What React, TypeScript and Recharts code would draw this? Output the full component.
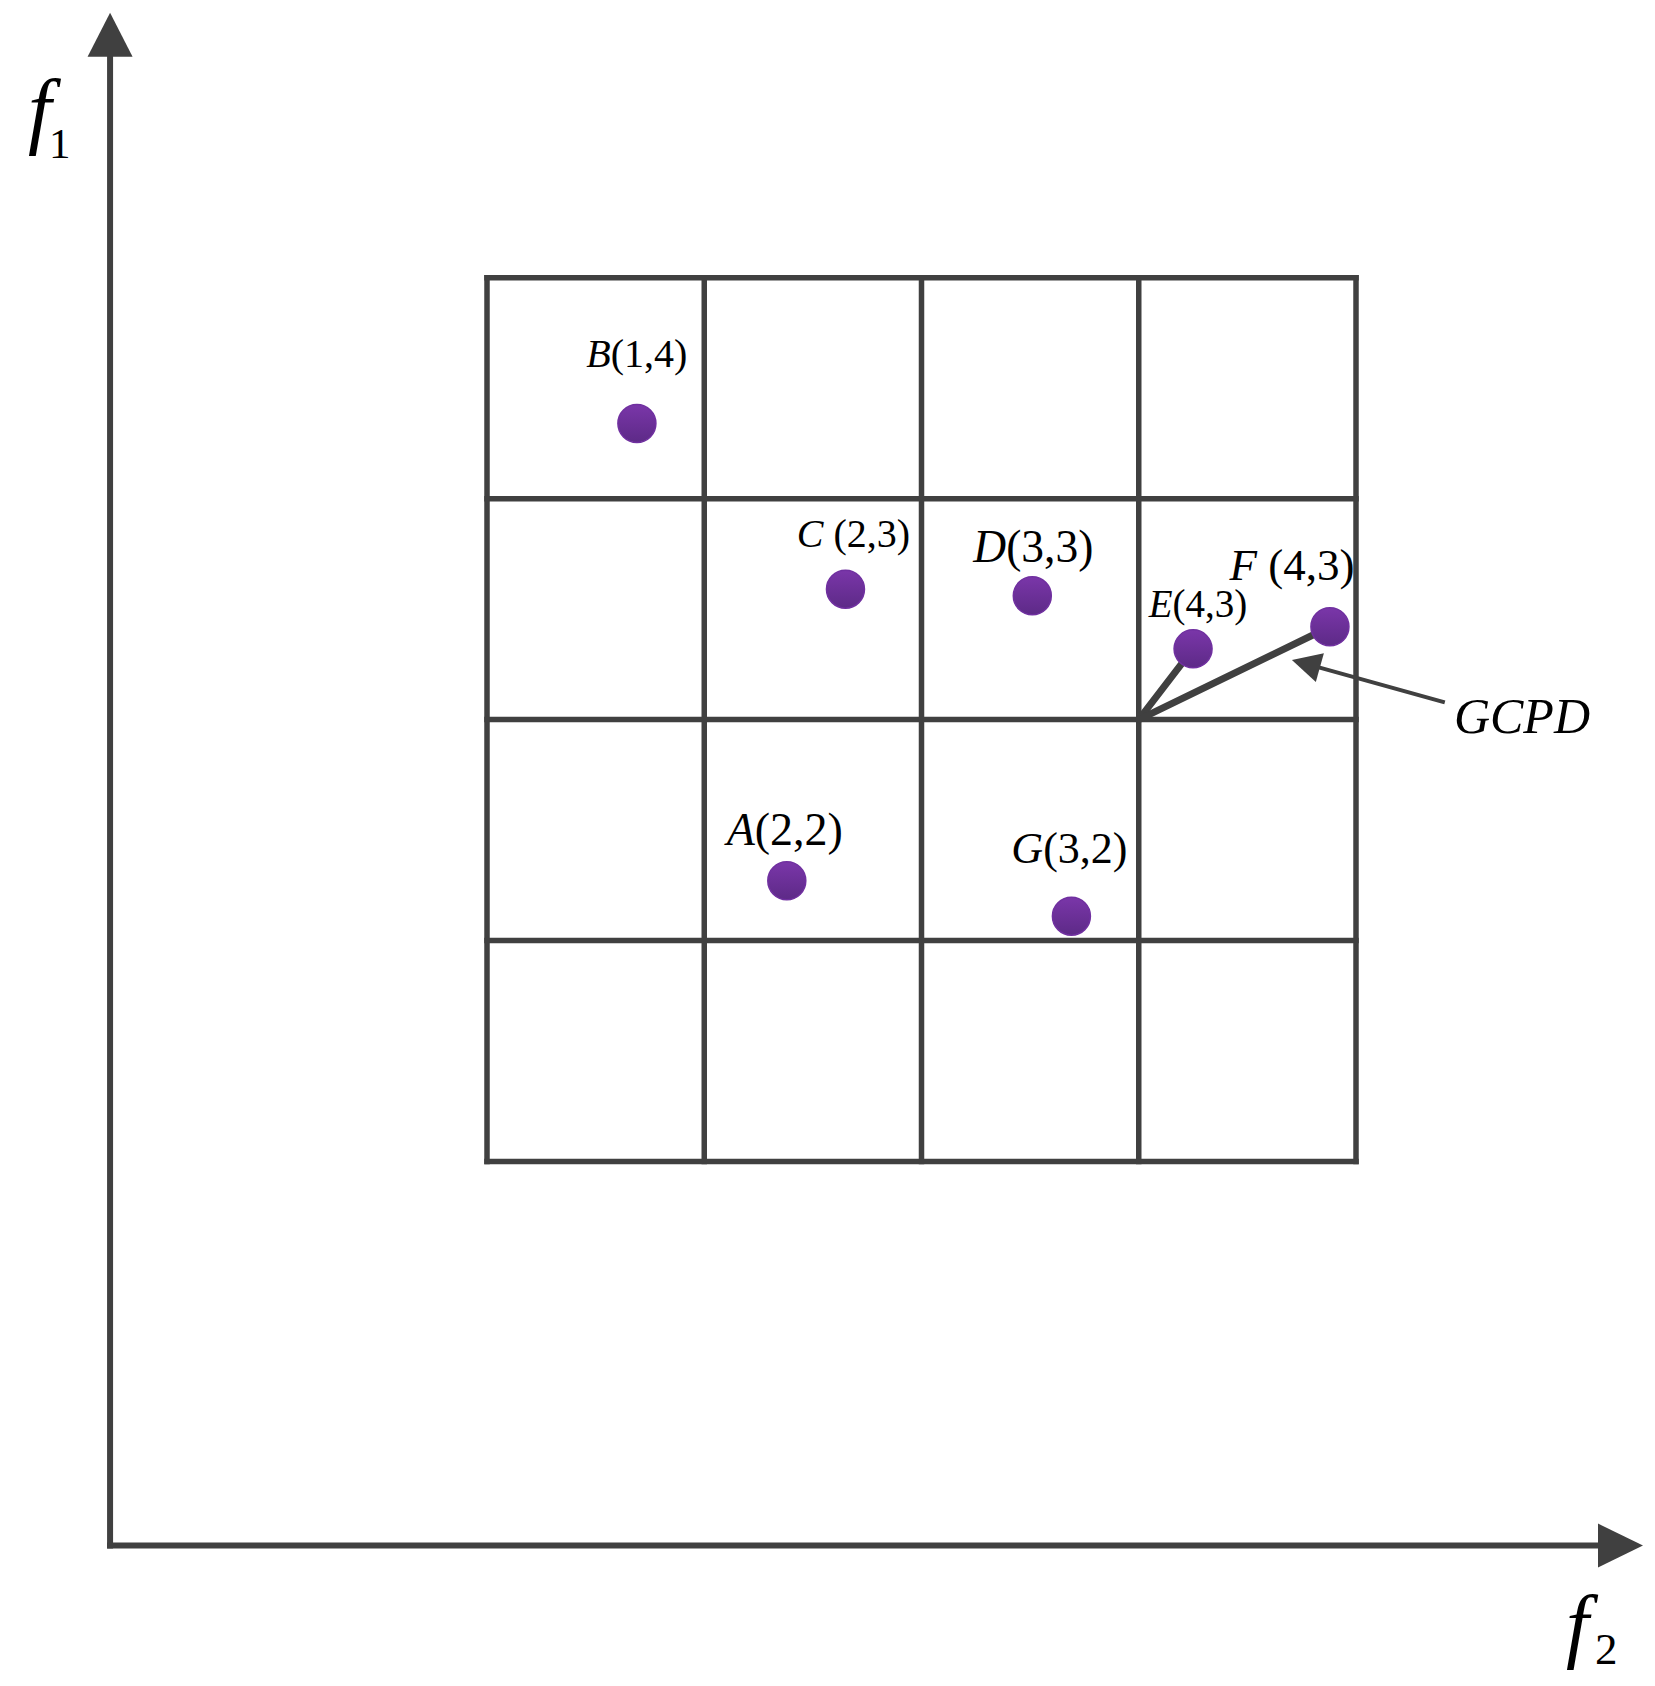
import { ScatterChart, Scatter, XAxis, YAxis, ReferenceLine } from "recharts";

// points, in grid units (0..4 from the grid's left / bottom edge)
const pointNames = ["A", "B", "C", "D", "E", "F", "G"];
const pointLabels = ["A(2,2)", "B(1,4)", "C (2,3)", "D(3,3)", "E(4,3)", "F (4,3)", "G(3,2)"];
const f2Values = [1.38, 0.69, 1.65, 2.51, 3.25, 3.88, 2.69];
const f1Values = [1.27, 3.34, 2.59, 2.56, 2.32, 2.42, 1.11];

const gridTicks = [0, 1, 2, 3, 4];

// GCPD vectors start at a grid corner and point to these points
const vectorOrigin = { x: 3, y: 2 };
const vectorTargets = ["E", "F"];
const pointerTail = { x: 4.4, y: 2.08 };
const pointerTip = { x: 3.705, y: 2.27 };

// arrow axes, in the same units
const axisOrigin = { x: -1.735, y: -1.739 };
const axisTipX = 5.321;
const axisTipY = 5.199;

// label placement relative to each dot (px) and font size
const labelLayout: Record<string, { dx: number; dy: number; size: number }> = {
  A: { dx: -2, dy: -36, size: 46 },
  B: { dx: 0, dy: -57, size: 40 },
  C: { dx: 8, dy: -42, size: 40 },
  D: { dx: 1, dy: -34, size: 45.5 },
  E: { dx: 5, dy: -32, size: 39 },
  F: { dx: -38, dy: -47, size: 45 },
  G: { dx: -2, dy: -53, size: 44 },
};

const INK = "#404040";
const FONT = "'Liberation Serif', 'Times New Roman', serif";

const points = pointNames.map((name, i) => ({
  name,
  label: pointLabels[i],
  x: f2Values[i],
  y: f1Values[i],
}));

const arrow =
  (width: number, headLen: number, headHalf: number, extra?: (x2: number, y2: number, x1: number, y1: number) => any) =>
  (p: any) => {
    const { x1, y1, x2, y2 } = p;
    const len = Math.hypot(x2 - x1, y2 - y1) || 1;
    const ux = (x2 - x1) / len;
    const uy = (y2 - y1) / len;
    const bx = x2 - ux * headLen;
    const by = y2 - uy * headLen;
    return (
      <g>
        <line x1={x1} y1={y1} x2={bx} y2={by} stroke={INK} strokeWidth={width} strokeLinecap="square" />
        <polygon
          points={`${x2},${y2} ${bx - uy * headHalf},${by + ux * headHalf} ${bx + uy * headHalf},${by - ux * headHalf}`}
          fill={INK}
        />
        {extra ? extra(x2, y2, x1, y1) : null}
      </g>
    );
  };

const gridLine = (p: any) => (
  <line x1={p.x1} y1={p.y1} x2={p.x2} y2={p.y2} stroke={INK} strokeWidth={5.5} strokeLinecap="square" />
);

const vectorLine = (p: any) => (
  <line x1={p.x1} y1={p.y1} x2={p.x2} y2={p.y2} stroke={INK} strokeWidth={7} strokeLinecap="round" />
);

const DotWithLabel = (props: any) => {
  const { cx, cy, payload } = props;
  const lay = labelLayout[payload.name];
  const rest = payload.label.slice(1);
  return (
    <g>
      <circle cx={cx} cy={cy} r={19} fill="url(#dotFill)" stroke="#7030a0" strokeWidth={1.5} />
      <text x={cx + lay.dx} y={cy + lay.dy} textAnchor="middle" fontFamily={FONT} fontSize={lay.size} fill="#000">
        <tspan fontStyle="italic">{payload.name}</tspan>
        <tspan>{rest}</tspan>
      </text>
    </g>
  );
};

export default function App() {
  const byName = (n: string) => points.find((p) => p.name === n)!;
  return (
    <div style={{ position: "absolute", left: 0, top: 0, background: "#fff" }}>
      <ScatterChart width={1655} height={1686} margin={{ top: 277.7, right: 299, bottom: 524.6, left: 487 }}>
        <defs>
          <linearGradient id="dotFill" x1="0" y1="0" x2="0" y2="1">
            <stop offset="0%" stopColor="#7a36a9" />
            <stop offset="100%" stopColor="#5d2a87" />
          </linearGradient>
        </defs>
        <XAxis type="number" dataKey="x" domain={[0, 4]} ticks={gridTicks} hide />
        <YAxis type="number" dataKey="y" domain={[0, 4]} ticks={gridTicks} hide />

        {gridTicks.map((t) => (
          <ReferenceLine key={`gx${t}`} x={t} shape={gridLine} ifOverflow="visible" />
        ))}
        {gridTicks.map((t) => (
          <ReferenceLine key={`gy${t}`} y={t} shape={gridLine} ifOverflow="visible" />
        ))}

        <ReferenceLine
          segment={[axisOrigin, { x: axisOrigin.x, y: axisTipY }]}
          ifOverflow="visible"
          shape={arrow(6, 44, 22.5, (x2, y2) => (
            <g fontFamily={FONT} fill="#000">
              <text x={x2 - 82} y={y2 + 125} fontSize={84} fontStyle="italic">f</text>
              <text x={x2 - 61} y={y2 + 145} fontSize={43}>1</text>
            </g>
          ))}
        />
        <ReferenceLine
          segment={[axisOrigin, { x: axisTipX, y: axisOrigin.y }]}
          ifOverflow="visible"
          shape={arrow(6, 45, 22, (x2, y2) => (
            <g fontFamily={FONT} fill="#000">
              <text x={x2 - 77} y={y2 + 106} fontSize={82} fontStyle="italic">f</text>
              <text x={x2 - 48} y={y2 + 118} fontSize={45}>2</text>
            </g>
          ))}
        />

        {vectorTargets.map((n) => {
          const t = byName(n);
          return (
            <ReferenceLine
              key={`v${n}`}
              segment={[vectorOrigin, { x: t.x, y: t.y }]}
              ifOverflow="visible"
              shape={vectorLine}
            />
          );
        })}

        <ReferenceLine
          segment={[pointerTail, pointerTip]}
          ifOverflow="visible"
          shape={arrow(4, 29, 15, (_x2, _y2, x1, y1) => (
            <text x={x1 + 11} y={y1 + 31} fontFamily={FONT} fontSize={50} fontStyle="italic" fill="#000">
              GCPD
            </text>
          ))}
        />

        <Scatter data={points} shape={DotWithLabel} isAnimationActive={false} />
      </ScatterChart>
    </div>
  );
}
